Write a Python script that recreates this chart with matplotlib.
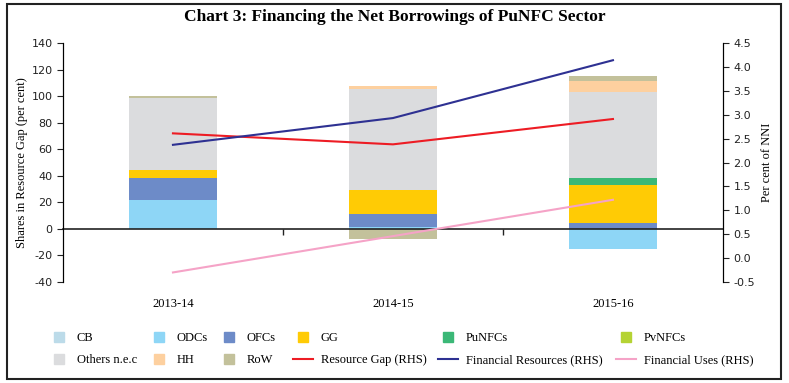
import matplotlib.pyplot as plt
import numpy as np
from matplotlib.lines import Line2D
from matplotlib.patches import Rectangle

# dane
years = ["2013-14", "2014-15", "2015-16"]
series = ["CB", "ODCs", "OFCs", "GG", "PuNFCs", "PvNFCs", "Others n.e.c", "HH", "RoW"]
cb = [0.0, 0.0, 0.0]
odcs = [22.0, 1.8, -15.5]
ofcs = [16.5, 9.7, 4.5]
gg = [6.0, 18.0, 28.6]
punfcs = [0.0, 0.0, 5.1]
pvnfcs = [0.0, 0.0, 0.0]
others = [54.0, 75.8, 65.2]
hh = [0.0, 2.5, 7.8]
row = [1.6, -7.8, 4.2]
resource_gap = [2.61, 2.38, 2.91]
fin_resources = [2.37, 2.93, 4.14]
fin_uses = [-0.30, 0.46, 1.22]

kolory = ["#bcdbe9", "#8ed6f6", "#6d8bc8", "#ffcb05", "#3bb877", "#b5d334", "#dbdcde", "#fdd09f", "#c3c19b"]

plt.rcParams['font.family'] = ['Liberation Serif', 'DejaVu Serif']
plt.rcParams['axes.unicode_minus'] = False

fig = plt.figure(figsize=(7.89, 3.83), dpi=100)
ax = fig.add_axes([0.0798, 0.2637, 0.8365, 0.624])
ax2 = ax.twinx()

# słupki skumulowane, osobno dodatnie i ujemne
x = np.arange(len(years))
dane = [cb, odcs, ofcs, gg, punfcs, pvnfcs, others, hh, row]
pos = np.zeros(3)
neg = np.zeros(3)
for vals, kol in zip(dane, kolory):
    v = np.array(vals)
    baza = np.where(v >= 0, pos, neg)
    ax.bar(x, v, bottom=baza, width=0.4, color=kol, zorder=2)
    pos = pos + np.where(v >= 0, v, 0)
    neg = neg + np.where(v < 0, v, 0)

ax.set_xlim(-0.5, 2.5)
ax.set_ylim(-40, 140)
ax.set_yticks(np.arange(-40, 141, 20))
# oś x na wysokości zera
ax.spines["bottom"].set_position(("data", 0))
ax.spines["bottom"].set_color("#222222")
ax.spines["bottom"].set_linewidth(1.2)
ax.spines["bottom"].set_zorder(3)
ax.set_xticks([0.5, 1.5])
ax.set_xticklabels([])
ax.tick_params(axis='x', length=4, width=1, color="#222222")
for i, y in enumerate(years):
    ax.text(i, -0.092, y, transform=ax.get_xaxis_transform(), ha="center", va="center", fontsize=9)
ax.spines["top"].set_visible(False)
ax2.spines["top"].set_visible(False)
ax2.spines["bottom"].set_visible(False)
ax.tick_params(axis='y', labelsize=8, length=4, colors="#222222")
for lab in ax.get_yticklabels():
    lab.set_family("DejaVu Sans")
ax.set_ylabel("Shares in Resource Gap (per cent)", fontsize=9)
ax.yaxis.set_label_coords(-0.053, 0.5)

# linie po prawej osi
ax2.plot(x, resource_gap, color="#ed1c24", lw=1.5, zorder=4)
ax2.plot(x, fin_resources, color="#2e3192", lw=1.5, zorder=4)
ax2.plot(x, fin_uses, color="#f5a3c7", lw=1.5, zorder=4)
ax2.set_ylim(-0.5, 4.5)
ax2.set_yticks(np.arange(-0.5, 4.51, 0.5))
ax2.set_yticklabels([f"{t:.1f}" for t in np.arange(-0.5, 4.51, 0.5)])
ax2.tick_params(axis='y', labelsize=8, length=4, colors="#222222")
for lab in ax2.get_yticklabels():
    lab.set_family("DejaVu Sans")
ax2.set_ylabel("Per cent of NNI", fontsize=9, labelpad=4)

fig.text(0.5, 0.955, "Chart 3: Financing the Net Borrowings of PuNFC Sector",
         ha="center", va="center", fontsize=12.5, fontweight="bold")

# legenda - kolumnami
def kw(k):
    return Line2D([], [], marker='s', ls='none', markersize=7, color=k)

uchwyty = [
    [(kw(kolory[0]), "CB"), (kw(kolory[6]), "Others n.e.c")],
    [(kw(kolory[1]), "ODCs"), (kw(kolory[7]), "HH")],
    [(kw(kolory[2]), "OFCs"), (kw(kolory[8]), "RoW")],
    [(kw(kolory[3]), "GG"), (Line2D([], [], color="#ed1c24", lw=1.5), "Resource Gap (RHS)")],
    [(kw(kolory[4]), "PuNFCs"), (Line2D([], [], color="#2e3192", lw=1.5), "Financial Resources (RHS)")],
    [(kw(kolory[5]), "PvNFCs"), (Line2D([], [], color="#f5a3c7", lw=1.5), "Financial Uses (RHS)")],
]
xs = [43, 143, 213, 287, 432, 610]
for xp, kol in zip(xs, uchwyty):
    leg = fig.legend([h for h, _ in kol], [t for _, t in kol], loc="upper left",
                     bbox_to_anchor=(xp / 789, 1 - 326 / 383), frameon=False, fontsize=9,
                     handlelength=1.6, handletextpad=0.6, labelspacing=0.8, borderpad=0)

fig.add_artist(Rectangle((7 / 789, 4 / 383), 774 / 789, 375 / 383, transform=fig.transFigure,
                         fill=False, ec="#222222", lw=1.5))

fig.savefig("out.png", dpi=100)
